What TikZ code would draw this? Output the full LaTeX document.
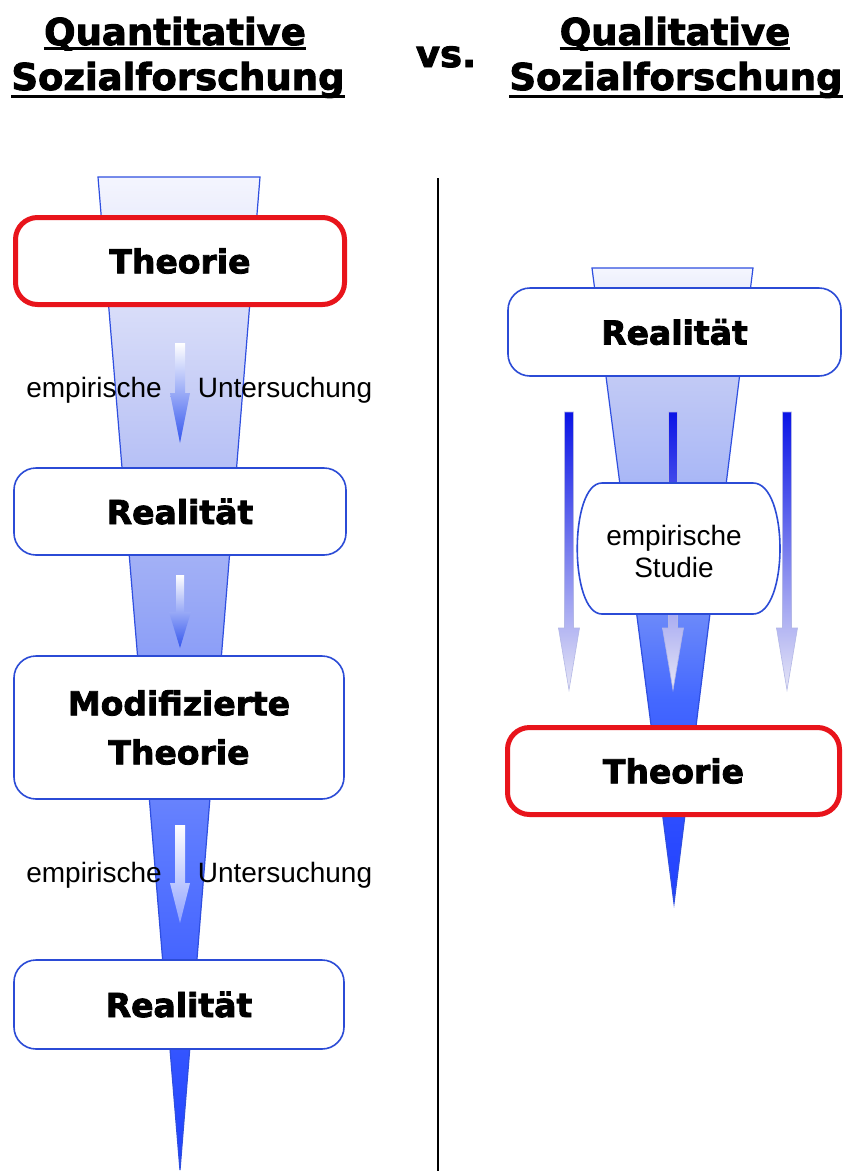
\documentclass[tikz,border=0pt]{standalone}
\usepackage{fontspec}
\setmainfont{Liberation Sans}
\newfontfamily\heavy{DejaVu Sans}[BoldFeatures={FakeBold=2.5}]
\definecolor{boxblue}{HTML}{2B4BD6}
\definecolor{boxred}{HTML}{E8141B}
\definecolor{fline}{HTML}{2F4FE0}
\definecolor{lfa}{HTML}{F4F5FE}
\definecolor{lfb}{HTML}{C6CDF6}
\definecolor{lfc}{HTML}{98A8F6}
\definecolor{lfd}{HTML}{5A78FF}
\definecolor{lfe}{HTML}{2A4CFF}
\definecolor{lff}{HTML}{1E40FF}
\definecolor{rfa}{HTML}{F5F6FE}
\definecolor{rfb}{HTML}{C2CAF5}
\definecolor{rfc}{HTML}{AAB8F6}
\definecolor{rfd}{HTML}{6A88FA}
\definecolor{rfe}{HTML}{4468FF}
\definecolor{rff}{HTML}{3050FF}
\definecolor{rfg}{HTML}{2040FF}
\definecolor{arrdark}{HTML}{0A14E6}
\definecolor{arrlight}{HTML}{E6E6F6}
\definecolor{arrline}{HTML}{B4B8E6}
\definecolor{smallblue}{HTML}{3355EE}
\definecolor{smalllight}{HTML}{8FA2FF}
\pgfdeclareverticalshading{lfunnel}{100bp}{color(0bp)=(lff); color(25bp)=(lff); color(28.5bp)=(lfe); color(41bp)=(lfd); color(53.5bp)=(lfc); color(64bp)=(lfb); color(75bp)=(lfa); color(100bp)=(lfa)}
\pgfdeclareverticalshading{rfunnel}{100bp}{color(0bp)=(rfg); color(25bp)=(rfg); color(33bp)=(rff); color(41bp)=(rfe); color(47.5bp)=(rfd); color(58.5bp)=(rfc); color(66.5bp)=(rfb); color(75bp)=(rfa); color(100bp)=(rfa)}
\tikzset{
  titletext/.style={inner sep=0pt, anchor=base, font=\heavy\bfseries\fontsize{37}{44}\selectfont},
  uline/.style={line width=3pt, black},
  lbox/.style={draw=boxblue, line width=1.6pt, fill=white, rounded corners=22pt, align=center,
     font=\heavy\bfseries\fontsize{33}{49}\selectfont},
  rbox/.style={lbox, draw=boxred, line width=5pt},
  plain/.style={inner sep=0pt, anchor=base, font=\fontsize{28}{32}\selectfont},
  bigarrow/.style={top color=arrdark, bottom color=arrlight, draw=arrline, line width=0.6pt},
  smallarrow/.style={top color=white, bottom color=smallblue},
  smallarrowlight/.style={top color=white, bottom color=smalllight},
  funnelline/.style={draw=fline, line width=1.2pt}
}
\begin{document}
\begin{tikzpicture}[x=1pt,y=-1pt]
\useasboundingbox (0,0) rectangle (844,1171);
\fill[white] (0,0) rectangle (844,1171);

% titles
\node[titletext] (q1) at (175,45) {Quantitative};
\node[titletext] (q2) at (178,90) {Sozialforschung};
\node[titletext] (vs) at (446,67) {vs.};
\node[titletext] (p1) at (675,45) {Qualitative};
\node[titletext] (p2) at (676,90) {Sozialforschung};
\draw[uline] ([yshift=-3.5pt]q1.base west) -- ([yshift=-3.5pt]q1.base east);
\draw[uline] ([yshift=-6.5pt]q2.base west) -- ([yshift=-6.5pt]q2.base east);
\draw[uline] ([yshift=-3.5pt]p1.base west) -- ([yshift=-3.5pt]p1.base east);
\draw[uline] ([yshift=-6.5pt]p2.base west) -- ([yshift=-6.5pt]p2.base east);

% divider
\coordinate (dtop) at (438,178);
\coordinate (dbot) at (438,1171);
\draw[black, line width=1.2pt] (dtop) -- (dbot);

% left funnel
\shade[shading=lfunnel, funnelline] (98,177) -- (260,177) -- (180,1170) -- cycle;

% left small arrows
\shade[smallarrow] (175,343) -- (185,343) -- (185,393) -- (190,393) -- (180,443) -- (170,393) -- (175,393) -- cycle;
\shade[smallarrow] (176,575) -- (184,575) -- (184,612) -- (191,612) -- (180,648) -- (169,612) -- (176,612) -- cycle;
\shade[smallarrowlight] (175,825) -- (185,825) -- (185,883) -- (190,883) -- (180,923) -- (170,883) -- (175,883) -- cycle;

% left boxes
\node[rbox, minimum width=329pt, minimum height=87pt] (lthe) at (180,261) {Theorie};
\node[lbox, minimum width=332pt, minimum height=87pt] (lre1) at (180,511.5) {Realität};
\node[lbox, minimum width=330pt, minimum height=143pt] (lmod) at (179,727.5) {Modifizierte\\Theorie};
\node[lbox, minimum width=330pt, minimum height=89pt] (lre2) at (179,1004.5) {Realität};

% left labels
\node[plain] (emp1) at (94,397) {empirische};
\node[plain] (unt1) at (285,397) {Untersuchung};
\node[plain] (emp2) at (94,882) {empirische};
\node[plain] (unt2) at (285,882) {Untersuchung};

% right funnel
\shade[shading=rfunnel, funnelline] (592,268) -- (753,268) -- (674,903) -- cycle;

% right arrows
\foreach \ax/\nm in {569/ra1, 673/ra2, 787/ra3}{
  \shade[bigarrow] (\ax-4.5,412) -- (\ax+4.5,412) -- (\ax+4.5,628) -- (\ax+10.5,628)
     -- (\ax,690) -- (\ax-10.5,628) -- (\ax-4.5,628) -- cycle;
}

% right boxes
\node[lbox, minimum width=333pt, minimum height=88pt] (rre) at (674.5,332) {Realität};
\node[rbox, minimum width=332pt, minimum height=87pt] (rthe) at (673.5,771) {Theorie};

% empirische Studie box
\filldraw[fill=white, draw=boxblue, line width=1.6pt]
  (602,483) -- (753,483) .. controls (789,483) and (789,614) .. (753,614)
  -- (602,614) .. controls (569,614) and (569,483) .. (602,483) -- cycle;
\node[plain, anchor=center, align=center] (studie) at (674,551) {empirische\\Studie};
\end{tikzpicture}
\end{document}
